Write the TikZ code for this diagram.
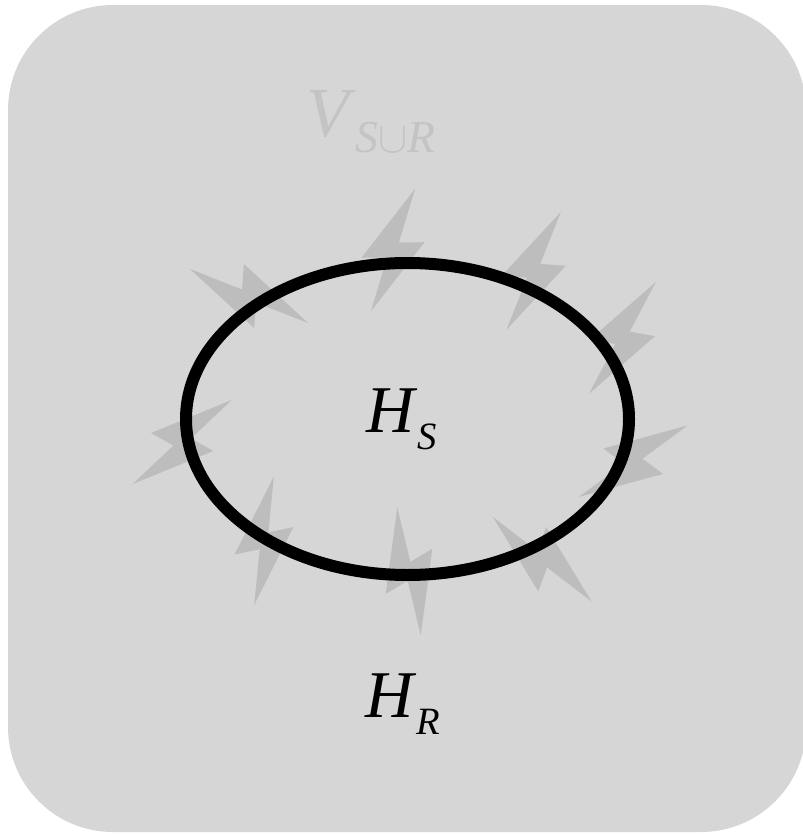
\documentclass[tikz,border=0pt]{standalone}
\usepackage{fontspec}
\setmainfont{Liberation Serif}
\usetikzlibrary{positioning}

\definecolor{panelgray}{RGB}{214,214,214}
\definecolor{boltgray}{RGB}{189,189,189}
\definecolor{labelgray}{RGB}{196,196,196}

% italic letter with a lowered index
\newcommand{\hsym}[3]{\textit{#1}\raisebox{#3}{\fontsize{22}{22}\selectfont #2}}

\begin{document}
\begin{tikzpicture}[
    x=0.02cm, y=-0.02cm,
    font=\fontsize{38}{40}\selectfont,
    every node/.style={inner sep=0pt, outer sep=0pt},
    bolt/.style={fill=boltgray},
    boundary/.style={draw=black, line width=0.24cm}
]

\useasboundingbox (0,0) rectangle (802,834);

% =================================================
% PANEL
% =================================================

\fill[
    panelgray,
    rounded corners=2.1cm
] (8,5) rectangle (806,832);

\node[
    anchor=base west,
    text=labelgray,
    font=\fontsize{40}{42}\selectfont
] (vlabel) at (306,137)
{\textit{V}\raisebox{-9pt}{\fontsize{26}{26}\selectfont\textit{S}$\cup$\textit{R}}};

% =================================================
% BOLTS AROUND THE BOUNDARY
% =================================================

\foreach \cx/\cy/\ang in {
    249/296/-24.6,
    393/250/70.2,
    533.7/270.8/65.2,
    622.5/337.8/59.1,
    182.2/442/40.3,
    264/540.8/81.3,
    409/571.3/100.4,
    633.2/461.2/33.3,
    542.2/559.2/-40.6
}{
    \fill[
        bolt,
        shift={(\cx,\cy)},
        rotate=\ang
    ] (65,0) -- (9,3) -- (18,27) -- (-65,0) -- (-9,-3) -- (-18,-27) -- cycle;
}

% System boundary
\draw[boundary] (407.5,419) ellipse [x radius=221.5, y radius=156];

% =================================================
% LABELS
% =================================================

\node[anchor=base west] (hs) at (366,432)
{\hsym{H}{\textit{S}}{-10pt}};

\node[anchor=base west] (hr) at (365,717)
{\hsym{H}{\textit{R}}{-10pt}};

\end{tikzpicture}
\end{document}
